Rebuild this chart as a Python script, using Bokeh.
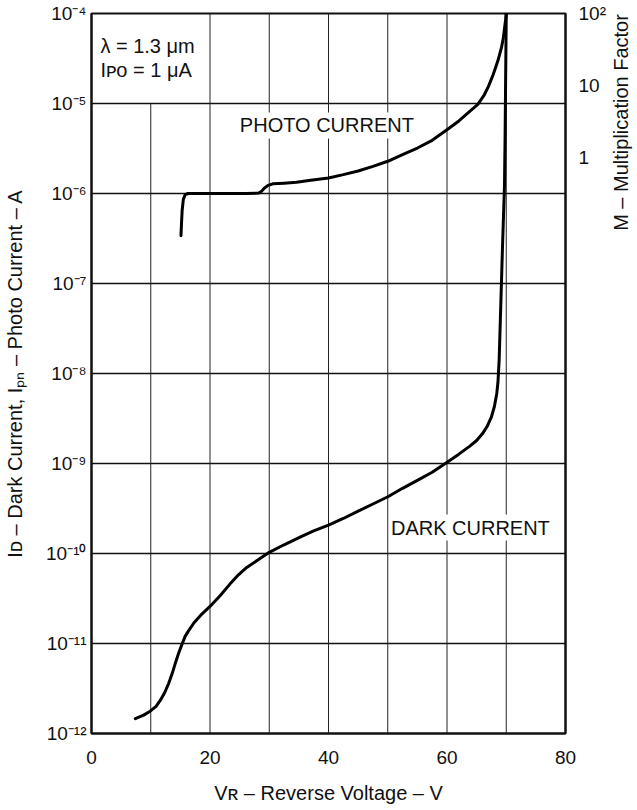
import math
from bokeh.plotting import figure
from bokeh.layouts import row
from bokeh.models import (Range1d, LogScale, LogAxis, FixedTicker, Label,
                          CustomJSTickFormatter)
from bokeh.embed import file_html
from bokeh.resources import INLINE

# ---------------- data ----------------
photo_v = [15.1, 15.2, 15.3, 15.5, 15.8, 16.3, 18.0, 22.0, 26.0, 28.2, 28.7, 29.2,
           29.8, 30.6, 32.5, 34.6, 37.0, 40.0, 42.5, 45.0, 47.5, 50.0, 52.5, 55.0,
           57.5, 60.0, 62.0, 63.5, 65.2, 66.3, 67.0, 67.8, 68.6, 69.2, 69.5, 69.7,
           69.9, 70.0]
photo_i = [3.4e-7, 4.8e-7, 6.5e-7, 8.6e-7, 9.7e-7, 1.0e-6, 1.0e-6, 1.0e-6, 1.0e-6,
           1.01e-6, 1.06e-6, 1.15e-6, 1.23e-6, 1.28e-6, 1.30e-6, 1.33e-6, 1.40e-6,
           1.49e-6, 1.62e-6, 1.78e-6, 2.0e-6, 2.28e-6, 2.7e-6, 3.2e-6, 3.9e-6,
           5.1e-6, 6.4e-6, 7.8e-6, 9.8e-6, 1.25e-5, 1.55e-5, 2.1e-5, 3.0e-5,
           4.2e-5, 5.3e-5, 6.8e-5, 8.6e-5, 1.0e-4]

dark_v = [7.4, 8.8, 9.9, 10.9, 11.6, 12.3, 13.0, 13.6, 14.1, 14.7, 15.3, 15.8,
          16.4, 17.3, 18.4, 20.0, 21.7, 23.4, 24.8, 26.2, 28.0, 30.0, 32.5, 35.2,
          37.5, 40.1, 42.5, 45.0, 47.5, 50.1, 52.5, 55.0, 57.5, 59.9, 62.0, 63.8,
          65.0, 66.0, 66.8, 67.5, 68.0, 68.4, 68.6, 68.8, 68.95, 69.1, 69.25,
          69.4, 69.55, 69.7, 69.8, 69.9, 70.0]
dark_i = [1.46e-12, 1.6e-12, 1.77e-12, 2.0e-12, 2.33e-12, 2.8e-12, 3.56e-12,
          4.6e-12, 5.9e-12, 7.8e-12, 9.9e-12, 1.2e-11, 1.39e-11, 1.7e-11,
          2.05e-11, 2.58e-11, 3.4e-11, 4.6e-11, 5.8e-11, 7.0e-11, 8.4e-11,
          1.03e-10, 1.25e-10, 1.52e-10, 1.78e-10, 2.08e-10, 2.45e-10, 2.95e-10,
          3.55e-10, 4.3e-10, 5.3e-10, 6.5e-10, 8.0e-10, 1.02e-9, 1.27e-9, 1.55e-9,
          1.8e-9, 2.15e-9, 2.6e-9, 3.3e-9, 4.3e-9, 6.0e-9, 8.0e-9, 1.4e-8, 3.0e-8,
          6.5e-8, 1.4e-7, 3.0e-7, 6.0e-7, 1.2e-6, 4.0e-6, 2.0e-5, 1.0e-4]

x_ticks = [0, 20, 40, 60, 80]
x_grid = [10, 20, 30, 40, 50, 60, 70]
y_ticks = [1e-12, 1e-11, 1e-10, 1e-9, 1e-8, 1e-7, 1e-6, 1e-5, 1e-4]
y_tick_labels = ["10⁻¹²", "10⁻¹¹", "10⁻¹⁰", "10⁻⁹", "10⁻⁸", "10⁻⁷", "10⁻⁶",
                 "10⁻⁵", "10⁻⁴"]
m_ticks = [1, 10, 100]
m_tick_labels = ["1", "10", "10²"]

x_title = "Vʀ – Reverse Voltage – V"
y_title = "Iᴅ – Dark Current, Iₚₙ – Photo Current – A"
m_title = "M – Multiplication Factor"
m_title_center = 6.15e-6   # current level at the middle of the right title

FONT = "Liberation Sans"
FS = "19px"
FS_TXT = "20px"
INK = "#111111"

p = figure(width=608, height=810, x_range=Range1d(0, 80),
           y_range=Range1d(1e-12, 1e-4), y_axis_type="log",
           output_backend="svg", toolbar_location=None,
           min_border_left=91, min_border_right=42, min_border_top=13,
           min_border_bottom=77)
p.background_fill_color = "white"
p.border_fill_color = "white"
p.outline_line_color = INK
p.outline_line_width = 2

# grid
p.xgrid.visible = False
p.ygrid.ticker = FixedTicker(ticks=y_ticks)
p.ygrid.grid_line_color = INK
p.ygrid.grid_line_width = 1.4
p.ygrid.grid_line_alpha = 1.0

# vertical grid lines (the 10 V line leaves the note box in the top decade open)
gy0 = [y_ticks[0]] * len(x_grid)
gy1 = [y_ticks[-2] if v == 10 else y_ticks[-1] for v in x_grid]
p.segment(x0=x_grid, y0=gy0, x1=x_grid, y1=gy1, line_color="#222222",
          line_width=1)

# curves
p.line(photo_v, photo_i, line_color="black", line_width=3, line_join="round",
       line_cap="round")
p.line(dark_v, dark_i, line_color="black", line_width=3, line_join="round",
       line_cap="round")


def fmt(tv, tl):
    return CustomJSTickFormatter(args=dict(tv=tv, tl=tl), code="""
        let best = 0, d = Infinity;
        for (let i = 0; i < tv.length; i++) {
            const dd = Math.abs(Math.log10(tick) - Math.log10(tv[i]));
            if (dd < d) { d = dd; best = i; }
        }
        return tl[best];
    """)


def style_axis(ax):
    ax.major_tick_in = 0
    ax.major_tick_out = 0
    ax.minor_tick_in = 0
    ax.minor_tick_out = 0
    ax.axis_line_color = INK
    ax.axis_line_width = 2
    ax.major_label_text_font = FONT
    ax.major_label_text_font_size = FS
    ax.major_label_text_color = INK
    ax.axis_label_text_font = FONT
    ax.axis_label_text_font_size = FS_TXT
    ax.axis_label_text_font_style = "normal"
    ax.axis_label_text_color = INK


# x axis
p.xaxis.ticker = FixedTicker(ticks=x_ticks)
style_axis(p.xaxis[0])
p.xaxis.major_label_standoff = 17
p.xaxis.axis_label = x_title
p.xaxis.axis_label_standoff = 15

# left y axis
p.yaxis.ticker = FixedTicker(ticks=y_ticks)
p.yaxis.formatter = fmt(y_ticks, y_tick_labels)
style_axis(p.yaxis[0])
p.yaxis.major_label_standoff = 5
p.yaxis.axis_label = y_title
p.yaxis.axis_label_standoff = 17

# right axis: multiplication factor M
p.extra_y_ranges = {"M": Range1d(1e-8, 1e2)}
p.extra_y_scales = {"M": LogScale()}
m_axis = LogAxis(y_range_name="M", ticker=FixedTicker(ticks=m_ticks),
                 formatter=fmt(m_ticks, m_tick_labels))
style_axis(m_axis)
m_axis.major_label_standoff = 13
p.add_layout(m_axis, "right")


def add_text(fig, x, y, text, bg=None, angle=0.0, align="left"):
    lab = Label(x=x, y=y, text=text, text_align=align, angle=angle,
                text_baseline="middle", text_font=FONT, text_font_size=FS_TXT,
                text_color=INK)
    if bg:
        lab.background_fill_color = bg
        lab.padding = 2
    fig.add_layout(lab)


add_text(p, 1.5, 4.4e-5, "λ = 1.3 μm")
add_text(p, 1.5, 2.35e-5, "Iᴘᴏ = 1 μA")
add_text(p, 24.7, 5.7e-6, "PHOTO CURRENT", bg="white")
add_text(p, 50.2, 1.94e-10, "DARK CURRENT", bg="white")

# narrow strip at the right carrying the title of the M axis
q = figure(width=29, height=810, x_range=Range1d(0, 1),
           y_range=Range1d(1e-12, 1e-4), y_axis_type="log",
           output_backend="svg", toolbar_location=None,
           min_border_left=0, min_border_right=0, min_border_top=13,
           min_border_bottom=77)
q.axis.visible = False
q.grid.visible = False
q.outline_line_color = None
q.background_fill_color = "white"
q.border_fill_color = "white"
add_text(q, 0.43, m_title_center, m_title, angle=math.pi / 2, align="center")

layout = row(p, q)
open("out.html", "w").write(file_html(layout, INLINE))
